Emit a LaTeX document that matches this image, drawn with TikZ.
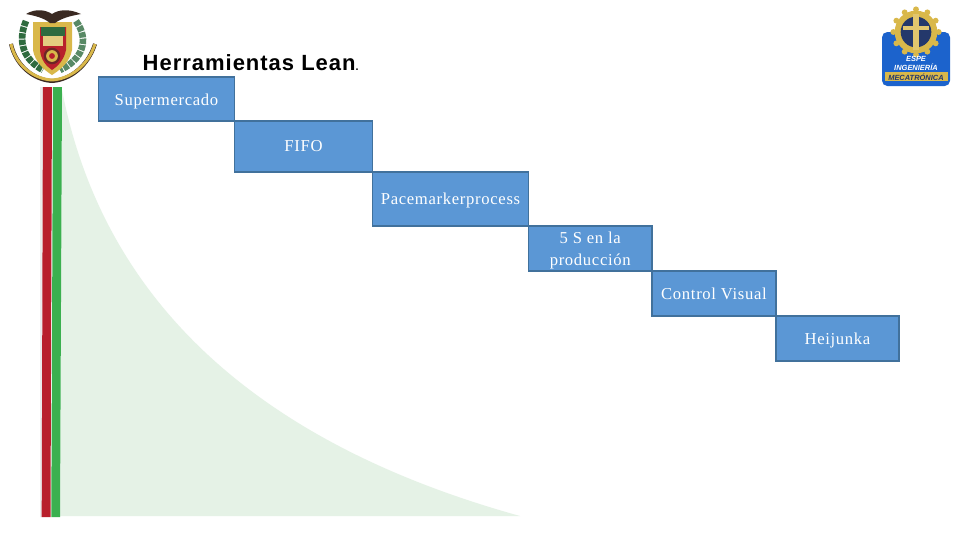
\documentclass[tikz,border=0pt]{standalone}
\usepackage{fontspec}
\setmainfont{Liberation Serif}
\newfontfamily\boxfont[LetterSpace=4]{Liberation Serif}
\newfontfamily\titlefont[LetterSpace=4.5]{Liberation Sans}
\newfontfamily\logofont{Liberation Sans}
\usepackage{xcolor}
\usetikzlibrary{positioning}
\definecolor{myblue}{HTML}{5B97D5}
\definecolor{myborder}{HTML}{41719C}
\definecolor{mygreenfill}{HTML}{E5F2E6}
\definecolor{myred}{HTML}{B8202C}
\definecolor{mygreen}{HTML}{3BB04F}
\definecolor{mygold}{HTML}{D9B84A}
\definecolor{myleaf}{HTML}{2F6B3F}
\definecolor{myeagle}{HTML}{3A2A22}
\definecolor{mylogoblue}{HTML}{1C63CC}
\definecolor{mynavy}{HTML}{24386B}
\begin{document}
\begin{tikzpicture}[x=0.75pt,y=-0.75pt]

\tikzset{
  stepbox/.style={
    draw=myborder,
    fill=myblue,
    line width=1.3pt,
    outer sep=0pt,
    inner sep=1pt,
    align=center,
    text=white,
    font=\boxfont\fontsize{12.5}{16.5}\selectfont
  },
  titlelabel/.style={
    font=\titlefont\fontsize{16.5}{20}\selectfont\bfseries,
    text=black
  },
  logotext/.style={
    font=\logofont\fontsize{5.6}{6}\selectfont\bfseries\itshape,
    inner sep=0pt
  }
}

\useasboundingbox (0,0) rectangle (960,540);
\fill[white] (0,0) rectangle (960,540);

% background
\fill[mygreenfill] (62,90) .. controls (95,260) and (210,430) .. (520,516) -- (60,516) -- cycle;
\fill[black!8] (40,87) -- (43,87) -- (42,517) -- (40,517) -- cycle;
\fill[myred] (43,87) -- (52,87) -- (50.5,517) -- (41.7,517) -- cycle;
\fill[mygreen] (53,87) -- (62,87) -- (60,517) -- (51.3,517) -- cycle;

% left emblem
\draw[myeagle, line width=3pt] (11,44) .. controls (16,66) and (34,80) .. (52,81) .. controls (70,80) and (88,66) .. (95,44);
\draw[mygold, line width=2.2pt] (11,44) .. controls (16,66) and (34,79) .. (52,80) .. controls (70,79) and (88,66) .. (95,44);
\draw[myleaf, line width=5pt, dash pattern=on 4pt off 0.8pt] (26,21) .. controls (17,42) and (24,60) .. (43,70);
\draw[myleaf!80!white, line width=5pt, dash pattern=on 4pt off 0.8pt] (76,21) .. controls (90,40) and (82,60) .. (60,70);
\fill[mygold] (33,22) -- (72,22) -- (72,50) .. controls (70,62) and (60,70) .. (52,75) .. controls (44,70) and (35,62) .. (33,50) -- cycle;
\fill[myred] (40,27) -- (66,27) -- (66,50) .. controls (64,60) and (58,66) .. (52,70) .. controls (46,66) and (41,60) .. (40,50) -- cycle;
\fill[myleaf] (41,27) rectangle (65,36);
\fill[mygold!70!white] (43,36) rectangle (63,46);
\fill[myeagle!60!myred] (52,56) circle (6.2pt);
\fill[mygold] (52,56) circle (4.4pt);
\fill[myred] (52,56) circle (2.2pt);
\fill[myeagle] (26,14) .. controls (36,8) and (46,10) .. (52,14) .. controls (58,10) and (68,8) .. (81,14) .. controls (70,16) and (62,18) .. (55,23) -- (50,23) .. controls (44,18) and (36,16) .. (26,14) -- cycle;

% right logo
\fill[mylogoblue, rounded corners=4pt] (882,32) rectangle (950,86);
\foreach \ang in {0,30,...,330}{
  \fill[mygold] (916,32) ++(\ang:17pt) circle (2.2pt);
}
\fill[mygold] (916,32) circle (16pt);
\fill[mynavy] (916,32) circle (11.5pt);
\fill[mygold!80!white] (913,14) rectangle (919,50);
\fill[mygold!80!white] (903,26) rectangle (929,30);
\fill[mygold] (885,72) rectangle (948,81);
\node[logotext, text=white] (espe) at (916,59) {ESPE};
\node[logotext, text=white] (inge) at (916,67) {INGENIERÍA};
\node[logotext, text=mynavy] (meca) at (916,77) {MECATRÓNICA};

% boxes
\node[titlelabel, anchor=west] (title) at (138,63) {Herramientas Lean{\fontsize{8}{8}\selectfont .}};
\node[stepbox, anchor=north west, minimum width=102pt, minimum height=33pt, text height=11pt, text depth=2pt] (super) at (98.5,77) {Supermercado};
\node[stepbox, below right=0pt and 0pt of super.south east, minimum width=103.5pt, minimum height=38.25pt, text height=10pt, text depth=2pt] (fifo) {FIFO};
\node[stepbox, below right=0pt and 0pt of fifo.south east, minimum width=117pt, minimum height=40.5pt, text height=10pt, text depth=2pt] (pace) {Pacemarkerprocess};
\node[stepbox, below right=0pt and 0pt of pace.south east, minimum width=92.6pt, minimum height=33.75pt] (fives) {\rule{0pt}{11.5pt}5 S en la\\producción};
\node[stepbox, below right=0pt and 0pt of fives.south east, minimum width=93pt, minimum height=33.75pt] (control) {Control Visual};
\node[stepbox, below right=0pt and 0pt of control.south east, minimum width=92.25pt, minimum height=33.75pt, text height=11pt, text depth=2pt] (heij) {Heijunka};

\end{tikzpicture}
\end{document}
